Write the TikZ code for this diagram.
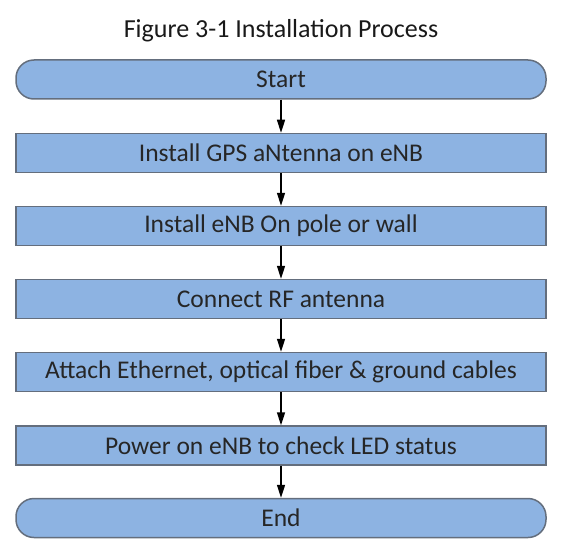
\documentclass[tikz,border=0pt]{standalone}
\usepackage{fontspec}
\setmainfont{Carlito}
\usepackage{xcolor}
\usepackage{tikz}
\usetikzlibrary{arrows.meta, positioning}

\definecolor{stepfill}{RGB}{141,179,226}
\definecolor{stepline}{RGB}{100,110,125}

\begin{document}
\begin{tikzpicture}[
    x=1pt, y=1pt,
    box/.style={draw=stepline, fill=stepfill, line width=1.5pt, rectangle, minimum width=530pt, minimum height=39pt, inner sep=0pt, align=center, text=black!85, font=\fontsize{25.5}{28}\selectfont},
    terminal/.style={box, rounded corners=18pt},
    arrow/.style={-{Triangle[width=8pt, length=13pt]}, line width=1.6pt},
]
\useasboundingbox (0,0) rectangle (561,-556);

% Title
\node[font=\fontsize{26}{30}\selectfont, text=black!90] (title) at (281,-31) {Figure 3-1 Installation Process};

% Steps
\node[terminal] (start) at (281,-79.5) {Start};
\node[box] (gps) at (281,-153) {Install GPS aNtenna on eNB};
\node[box] (mount) at (281,-226) {Install eNB On pole or wall};
\node[box] (rf) at (281,-299) {Connect RF antenna};
\node[box] (cables) at (281,-372) {Attach Ethernet, optical fiber \& ground cables};
\node[box] (power) at (281,-445.5) {Power on eNB to check LED status};
\node[terminal] (end) at (281,-518) {End};

% Arrows
\draw[arrow] (start) -- (gps);
\draw[arrow] (gps) -- (mount);
\draw[arrow] (mount) -- (rf);
\draw[arrow] (rf) -- (cables);
\draw[arrow] (cables) -- (power);
\draw[arrow] (power) -- (end);

\end{tikzpicture}
\end{document}
